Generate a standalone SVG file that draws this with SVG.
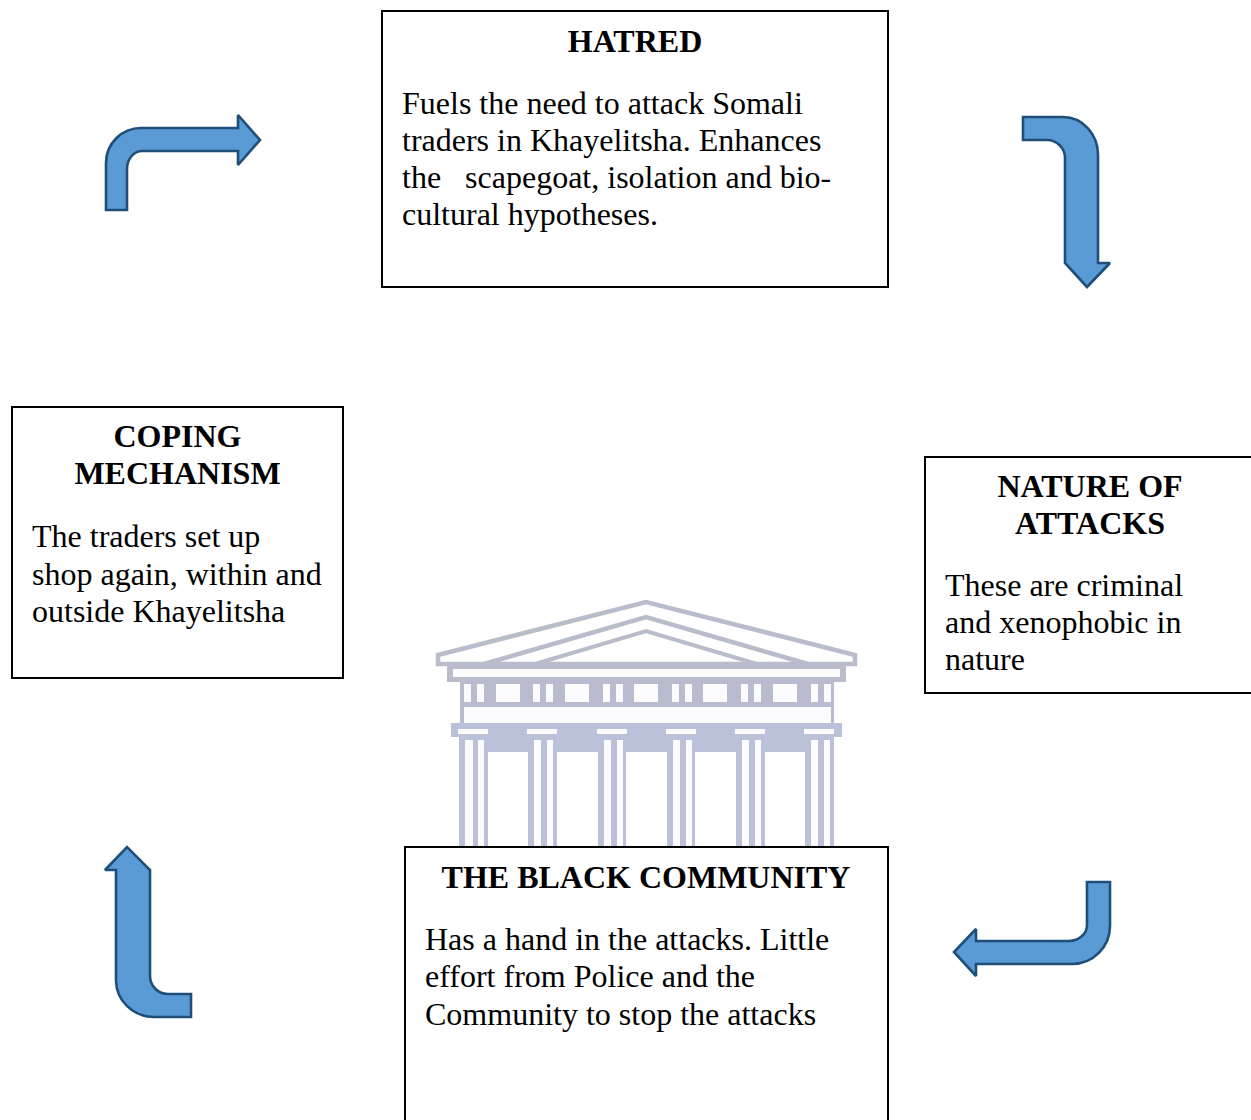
<svg xmlns="http://www.w3.org/2000/svg" width="1251" height="1120" viewBox="0 0 1251 1120">
<style>
text{font-family:"Liberation Serif","Times New Roman",serif;font-size:32px;fill:#000;white-space:pre}
.h{font-weight:bold;text-anchor:middle}
.box{fill:#fff;stroke:#000;stroke-width:2}
.arrow{fill:#5b9bd5;stroke:#1f4e79;stroke-width:2.6;stroke-linejoin:miter;stroke-miterlimit:1.6}
.l{fill:none;stroke:#b9bccb}
.f{fill:#bcc1da}
.w{fill:#fcfcfe}
</style>
<defs><filter id="soft" x="-5%" y="-5%" width="110%" height="110%"><feGaussianBlur stdDeviation="0.7"/></filter></defs>
<rect width="1251" height="1120" fill="#fff"/>
<g id="logo" filter="url(#soft)">
<path class="l" d="M438 655L646 602L855 655V664H438Z" stroke-width="4.5" fill="#fcfcfe"/>
<path class="l" d="M484 664L646 617L808 664" stroke-width="4.5"/>
<path class="l" d="M535 664L646 631L757 664H535Z" stroke-width="4" fill="#fff"/>
<rect x="447" y="664" width="399" height="18" fill="#b9bccb"/>
<rect x="453" y="669" width="387" height="8" class="w"/>
<rect class="f" x="460" y="680" width="374" height="46" style="fill:#b9bccf"/>
<g class="w">
<rect x="464" y="684" width="7" height="18"/><rect x="477" y="684" width="7" height="18"/>
<rect x="496" y="684" width="24" height="18"/>
<rect x="533" y="684" width="7" height="18"/><rect x="546" y="684" width="7" height="18"/>
<rect x="565" y="684" width="24" height="18"/>
<rect x="603" y="684" width="7" height="18"/><rect x="616" y="684" width="7" height="18"/>
<rect x="634" y="684" width="24" height="18"/>
<rect x="672" y="684" width="7" height="18"/><rect x="685" y="684" width="7" height="18"/>
<rect x="703" y="684" width="24" height="18"/>
<rect x="741" y="684" width="7" height="18"/><rect x="754" y="684" width="7" height="18"/>
<rect x="773" y="684" width="24" height="18"/>
<rect x="811" y="684" width="7" height="18"/><rect x="824" y="684" width="7" height="18"/>
<rect x="464" y="707" width="367" height="16"/>
</g>
<rect class="f" x="451" y="723" width="391" height="14"/>
<rect class="f" x="486" y="736" width="320" height="16"/>
<g class="w">
<rect x="458" y="729" width="30" height="5"/><rect x="527" y="729" width="30" height="5"/><rect x="597" y="729" width="30" height="5"/><rect x="666" y="729" width="30" height="5"/><rect x="735" y="729" width="30" height="5"/><rect x="804" y="729" width="30" height="5"/>
</g>
<path class="f" d="M459 737h29v110h-29zM528 737h29v110h-29zM598 737h28v110h-28zM667 737h28v110h-28zM736 737h29v110h-29zM805 737h29v110h-29z"/>
<g class="w">
<rect x="465" y="740" width="8" height="107"/><rect x="478" y="740" width="6" height="107"/>
<rect x="534" y="740" width="7" height="107"/><rect x="547" y="740" width="6" height="107"/>
<rect x="604" y="740" width="7" height="107"/><rect x="617" y="740" width="6" height="107"/>
<rect x="673" y="740" width="7" height="107"/><rect x="686" y="740" width="6" height="107"/>
<rect x="742" y="740" width="7" height="107"/><rect x="755" y="740" width="6" height="107"/>
<rect x="811" y="740" width="7" height="107"/><rect x="824" y="740" width="6" height="107"/>
</g>
</g>
<g id="connectors">
<path class="arrow" d="M106 210V163A35 35 0 0 1 141 128H238V115L260 140L238 165V151H142A15 18 0 0 0 127 169V210Z"/>
<path class="arrow" d="M1023 117H1063A35 38 0 0 1 1098 155V263H1110L1087 287L1065 263V158A18 18 0 0 0 1047 140H1023Z"/>
<path class="arrow" d="M1110 882V926A38 38 0 0 1 1072 964H976V976L954 952L976 929V941H1069A18 16 0 0 0 1087 925V882Z"/>
<path class="arrow" d="M191 1017H154A38 37 0 0 1 116 980V870H105L127 847L150 870V976A18 18 0 0 0 168 994H191Z"/>
</g>
<g id="hatred">
<rect class="box" x="382" y="11" width="506" height="276"/>
<text class="h" x="635" y="52">HATRED</text>
<text x="402" y="114">Fuels the need to attack Somali</text>
<text x="402" y="151">traders in Khayelitsha. Enhances</text>
<text x="402" y="188">the   scapegoat, isolation and bio-</text>
<text x="402" y="225">cultural hypotheses.</text>
</g>
<g id="coping">
<rect class="box" x="12" y="407" width="331" height="271"/>
<text class="h" x="177.500" y="447">COPING</text>
<text class="h" x="177.500" y="484">MECHANISM</text>
<text x="32" y="547">The traders set up</text>
<text x="32" y="585">shop again, within and</text>
<text x="32" y="622">outside Khayelitsha</text>
</g>
<g id="nature">
<path class="box" d="M1251 457H925V693H1251"/>
<text class="h" x="1090" y="497">NATURE OF</text>
<text class="h" x="1090" y="534">ATTACKS</text>
<text x="945" y="596">These are criminal</text>
<text x="945" y="633">and xenophobic in</text>
<text x="945" y="670">nature</text>
</g>
<g id="community">
<path class="box" d="M405 1120V847H888V1120"/>
<text class="h" x="646" y="888">THE BLACK COMMUNITY</text>
<text x="425" y="950">Has a hand in the attacks. Little</text>
<text x="425" y="987">effort from Police and the</text>
<text x="425" y="1025">Community to stop the attacks</text>
</g>
</svg>
